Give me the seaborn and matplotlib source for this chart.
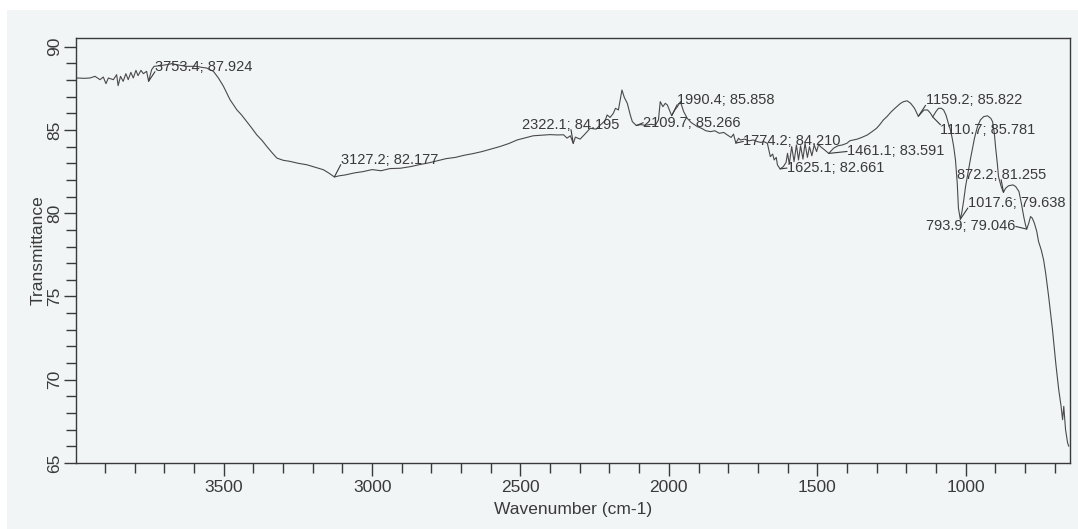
import matplotlib
matplotlib.use("Agg")
import matplotlib.pyplot as plt
from matplotlib.patches import Rectangle
from matplotlib.ticker import MultipleLocator
import seaborn as sns
import pandas as pd

# FTIR spectrum (wavenumber in cm-1, transmittance in %)
wavenumber = [
    3998, 3993, 3970, 3951, 3934, 3917, 3906, 3897, 3889, 3872, 3861, 3856, 3848,
    3839, 3830, 3822, 3813, 3805, 3796, 3789, 3779, 3771, 3760, 3753.4, 3743, 3735,
    3715, 3692, 3675, 3659, 3640, 3625, 3591, 3575, 3558, 3535, 3518, 3501, 3479,
    3456, 3440, 3423, 3405, 3389, 3370, 3355, 3338, 3321, 3300, 3276, 3250, 3220,
    3190, 3164, 3145, 3127.2, 3110, 3090, 3060, 3030, 3000, 2970, 2940, 2905, 2870,
    2840, 2810, 2780, 2750, 2720, 2690, 2660, 2630, 2600, 2570, 2540, 2511, 2485,
    2457, 2430, 2400, 2375, 2355, 2343, 2332, 2322.1, 2315, 2299, 2285, 2265, 2245,
    2231, 2215, 2208, 2198, 2187, 2180, 2170, 2164, 2158, 2150, 2140, 2130, 2123,
    2109.7, 2095, 2080, 2060, 2045, 2035, 2029, 2020, 2012, 2005, 1998, 1990.4,
    1980, 1971, 1961, 1950, 1938, 1925, 1912, 1904, 1890, 1875, 1860, 1845, 1830,
    1815, 1803, 1790, 1782, 1774.2, 1765, 1759, 1745, 1730, 1715, 1702, 1690, 1680,
    1668, 1658, 1650, 1645, 1638, 1634, 1625.1, 1614, 1605, 1600, 1594, 1586, 1578,
    1570, 1563, 1556, 1548, 1541, 1533, 1526, 1518, 1510, 1502, 1495, 1489, 1475,
    1461.1, 1445, 1430, 1415, 1400, 1390, 1378, 1365, 1350, 1331, 1315, 1300, 1290,
    1277, 1265, 1250, 1235, 1219, 1209, 1197, 1185, 1172, 1159.2, 1150, 1140, 1128,
    1118, 1110.7, 1100, 1091, 1082, 1074, 1066, 1058, 1051, 1045, 1040, 1034, 1028,
    1024, 1017.6, 1012, 1006, 1000, 990, 983, 970, 960, 950, 939, 926, 915, 909,
    903, 899, 893, 889, 880, 872.2, 865, 855, 840, 831, 820, 812, 804, 798, 793.9,
    787, 781, 775, 768, 760, 754, 745, 737, 730, 720, 707, 696, 686, 678, 673, 669,
    663, 656, 652,
]
transmittance = [
    88.10, 88.12, 88.10, 88.12, 88.22, 88.02, 88.18, 87.78, 88.12, 88.02, 88.32, 87.66, 88.22,
    87.92, 88.38, 88.02, 88.46, 88.12, 88.58, 88.26, 88.58, 88.38, 88.52, 87.924, 88.62, 88.82,
    88.86, 88.92, 88.98, 88.92, 88.86, 88.82, 88.82, 88.76, 88.72, 88.52, 88.12, 87.62, 86.82,
    86.21, 85.90, 85.51, 85.10, 84.71, 84.35, 84.01, 83.65, 83.31, 83.18, 83.11, 83.00, 82.91,
    82.75, 82.61, 82.40, 82.177, 82.25, 82.30, 82.42, 82.50, 82.62, 82.55, 82.68, 82.70, 82.80,
    82.92, 83.02, 83.15, 83.28, 83.35, 83.48, 83.58, 83.70, 83.85, 84.00, 84.18, 84.40, 84.52,
    84.65, 84.68, 84.72, 84.70, 84.71, 84.51, 84.65, 84.195, 84.57, 84.45, 84.71, 85.10, 85.05,
    85.30, 85.55, 85.90, 85.75, 86.00, 86.30, 86.20, 86.80, 87.40, 86.95, 86.60, 85.90, 85.50,
    85.266, 85.32, 85.28, 85.34, 85.30, 85.60, 86.70, 86.40, 86.60, 86.50, 86.20, 85.858,
    86.20, 86.40, 86.70, 86.10, 85.70, 85.45, 85.30, 85.20, 85.10, 84.95, 84.90, 84.95, 84.80,
    84.85, 84.70, 84.55, 84.75, 84.210, 84.50, 84.40, 84.45, 84.35, 84.40, 84.30, 84.25, 84.30,
    84.20, 83.40, 83.55, 83.20, 83.35, 82.90, 82.661, 82.80, 83.05, 83.60, 82.95, 84.00, 83.10,
    84.10, 83.20, 84.05, 83.25, 84.20, 83.35, 84.00, 83.45, 84.10, 83.70, 84.15, 84.00, 83.80,
    83.591, 83.90, 84.05, 84.10, 84.20, 84.35, 84.40, 84.45, 84.55, 84.70, 84.90, 85.10, 85.30,
    85.60, 85.80, 86.10, 86.35, 86.60, 86.70, 86.75, 86.60, 86.30, 85.822, 86.00, 86.20, 86.20,
    86.00, 85.781, 86.10, 86.30, 86.30, 86.20, 85.90, 85.40, 85.00, 84.50, 84.00, 83.20, 81.80,
    80.30, 79.638, 80.10, 80.80, 81.60, 82.60, 83.30, 84.50, 85.20, 85.60, 85.80, 85.85, 85.70, 85.50,
    84.80, 84.00, 83.00, 82.20, 81.60, 81.255, 81.50, 81.65, 81.70, 81.60, 81.30, 80.60, 79.80, 79.30, 79.046,
    79.40, 79.80, 79.70, 79.40, 78.90, 78.30, 77.80, 77.20, 76.40, 75.00, 73.00, 71.00, 69.40, 68.40, 67.60, 68.40,
    67.00, 66.20, 66.00,
]

# Labelled peaks, label offsets (points from the peak) and the label anchor the leader leaves from
peak_wavenumber = [3753.4, 3127.2, 2322.1, 2109.7, 1990.4, 1774.2, 1625.1,
                   1461.1, 1159.2, 1110.7, 872.2, 1017.6, 793.9]
peak_transmittance = [87.924, 82.177, 84.195, 85.266, 85.858, 84.210, 82.661,
                      83.591, 85.822, 85.781, 81.255, 79.638, 79.046]
label_offsets = [(4.6, 10.4), (4.6, 12.4), (-36.7, 13.4), (5.0, 2.0), (4.0, 11.5),
                 (5.4, 1.2), (5.0, 0.6), (13.2, 1.4), (5.2, 11.4), (5.6, -9.2),
                 (-33.8, 12.6), (5.4, 11.6), (-7.9, 1.9)]
label_align = ["left"] * 12 + ["right"]
leader_from = [(0, 0.15), (0, 0.15), (0.5, 0.15), (0, 0.5), (0, 0.15), (0, 0.5), (0, 0.5),
               (0, 0.5), (0, 0.15), (0, 0.85), (0.5, 0.15), (0, 0.15), (1, 0.5)]

paper = "#f2f5f5"
ink = "#3a3a3a"

sns.set_style("ticks")
plt.rcParams["font.family"] = ["Liberation Sans", "DejaVu Sans"]

fig = plt.figure(figsize=(10.78, 5.29), dpi=100, facecolor="white")
fig.patches.append(Rectangle((7 / 1078, 0), 1, 1 - 10 / 529, transform=fig.transFigure,
                             facecolor=paper, edgecolor="none", zorder=-1))
ax = fig.add_axes([76 / 1078, 1 - 463 / 529, (1070 - 76) / 1078, (463 - 37.7) / 529])
ax.set_facecolor(paper)

spectrum = pd.DataFrame({"wavenumber": wavenumber, "transmittance": transmittance})
sns.lineplot(data=spectrum, x="wavenumber", y="transmittance", ax=ax, sort=False,
             estimator=None, color="#4a4a4a", linewidth=0.8)

for w, t, off, ha, rel in zip(peak_wavenumber, peak_transmittance, label_offsets,
                              label_align, leader_from):
    ax.annotate(f"{w}; {t:.3f}", xy=(w, t), xytext=off, textcoords="offset points",
                ha=ha, va="center", fontsize=10.5, color=ink,
                arrowprops=dict(arrowstyle="-", color=ink, lw=0.8, shrinkA=0, shrinkB=0,
                                patchA=None, relpos=rel))

ax.set_xlim(3998, 648)
ax.set_ylim(65, 90.54)
ax.xaxis.set_major_locator(MultipleLocator(500))
ax.xaxis.set_minor_locator(MultipleLocator(100))
ax.yaxis.set_major_locator(MultipleLocator(5))
ax.yaxis.set_minor_locator(MultipleLocator(1))
ax.tick_params(which="both", direction="out", color=ink, width=1.0, labelcolor=ink)
ax.tick_params(which="major", length=9)
ax.tick_params(which="minor", length=7)
ax.tick_params(axis="x", labelsize=12.5, pad=3)
ax.tick_params(axis="y", labelsize=12.5, pad=1)
for lab in ax.get_yticklabels():
    lab.set_rotation(90)
    lab.set_va("center")

for side in ax.spines.values():
    side.set_color(ink)
    side.set_linewidth(1.0)

ax.set_xlabel("Wavenumber (cm-1)", fontsize=12.5, color=ink, labelpad=5)
ax.set_ylabel("Transmittance", fontsize=12.5, color=ink, labelpad=1)

fig.savefig("out.png", dpi=100, facecolor=fig.get_facecolor())
